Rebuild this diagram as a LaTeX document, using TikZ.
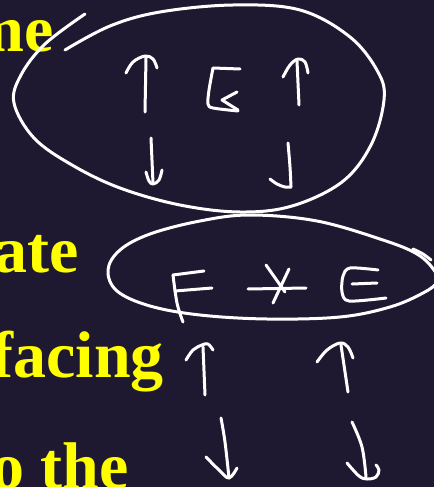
\documentclass[tikz,border=0pt]{standalone}
\usepackage{fontspec}
\newfontfamily\tnr{Liberation Serif}
\definecolor{bgnavy}{RGB}{30,25,48}
\definecolor{txtyellow}{RGB}{255,255,0}
\tikzset{
  ink/.style={draw=white, line width=3pt, line cap=round, line join=round},
  word/.style={anchor=base east, inner sep=0pt, text=txtyellow, font=\tnr\bfseries\fontsize{66}{66}\selectfont}
}
\begin{document}
\begin{tikzpicture}[x=1pt,y=-1pt]
\fill[bgnavy] (0,0) rectangle (434,487);
\useasboundingbox (0,0) rectangle (434,487);
\begin{scope}
\clip (0,0) rectangle (434,487);
% yellow text fragments
\node[word] (t1) at (54,52) {me};
\node[word] (t2) at (79,272) {ate};
\node[word] (t3) at (164,377) {facing};
\node[word] (t4) at (129,488) {o the};

% top ellipse (open loop with overlap)
\draw[ink] plot[smooth, tension=0.6] coordinates {(65,50) (110,26) (160,12) (233,5) (300,10) (350,37) (378,72) (384,100) (371,145) (342,182) (292,206) (240,212) (180,205) (120,188) (72,165) (34,138) (14,103) (21,75) (45,44) (85,14)};

% G
\draw[ink] (213,68) -- (240,69);
\draw[ink] plot[smooth, tension=0.5] coordinates {(213,68) (209,90) (208,104) (213,108) (238,111)};
\draw[ink] (237,92) -- (222,100) -- (238,110);

% top arrows
\draw[ink] (145,112) -- (146,58);
\draw[ink] plot[smooth, tension=0.6] coordinates {(126,73) (133,62) (145,56) (153,59) (157,68)};
\draw[ink] (299,105) -- (297,61);
\draw[ink] plot[smooth, tension=0.6] coordinates {(283,77) (290,65) (298,59) (305,62) (308,73)};
\draw[ink] (151,138) -- (153,183);
\draw[ink] plot[smooth, tension=0.6] coordinates {(146,172) (149,181) (153,184) (159,180) (162,170)};
\draw[ink] plot[smooth, tension=0.6] coordinates {(288,143) (290,167) (291,187)};
\draw[ink] plot[smooth, tension=0.6] coordinates {(270,179) (277,184) (285,187) (291,187)};

% second ellipse
\draw[ink] plot[smooth cycle, tension=0.6] coordinates {(108,270) (120,250) (150,234) (200,221) (250,215) (317,221) (383,240) (417,254) (434,270) (437,282) (423,293) (390,307) (340,317) (267,319) (200,315) (150,306) (117,291)};
\draw[ink] plot[smooth, tension=0.6] coordinates {(413,249) (423,254) (431,260)};

% F
\draw[ink] (173,275) -- (204,271);
\draw[ink] plot[smooth, tension=0.6] coordinates {(173,275) (177,303) (183,322)};
\draw[ink] (175,291) -- (212,288);

% *
\draw[ink] (248,289) -- (306,288);
\draw[ink] (289,269) -- (273,303);
\draw[ink] (266,265) -- (285,292);

% E
\draw[ink] plot[smooth, tension=0.5] coordinates {(378,270) (350,268) (343,276) (342,292) (349,301) (386,298)};
\draw[ink] (352,284) -- (377,283);

% bottom arrows
\draw[ink] (205,395) -- (203,347);
\draw[ink] plot[smooth, tension=0.6] coordinates {(186,360) (193,350) (202,345) (208,344) (213,350)};
\draw[ink] plot[smooth, tension=0.6] coordinates {(221,418) (225,442) (229,478)};
\draw[ink] plot[smooth, tension=0.6] coordinates {(206,457) (219,470) (229,478) (237,468)};
\draw[ink] (348,392) -- (341,345);
\draw[ink] plot[smooth, tension=0.6] coordinates {(317,362) (327,350) (340,343) (348,347) (353,358)};
\draw[ink] plot[smooth, tension=0.6] coordinates {(352,422) (362,447) (366,477)};
\draw[ink] plot[smooth, tension=0.6] coordinates {(347,463) (359,476) (367,479) (376,477) (379,470) (376,465)};
\end{scope}
\end{tikzpicture}
\end{document}
